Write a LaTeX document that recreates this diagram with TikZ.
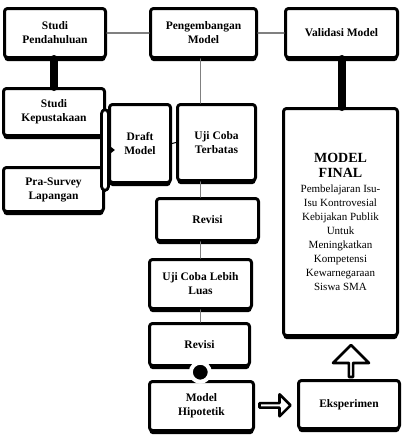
\documentclass[tikz,border=0pt]{standalone}
\usepackage{fontspec}
\setmainfont{Liberation Serif}
\usetikzlibrary{shadows,shapes.arrows,arrows.meta,calc}
\begin{document}
\begin{tikzpicture}[x=1pt, y=-1pt, line join=round, line cap=round,
	kotak/.style={draw, fill=white, line width=3pt, rounded corners=3pt, align=center, inner sep=2pt,
		font=\fontsize{11.5}{14}\selectfont\bfseries,
		drop shadow={shadow xshift=0pt, shadow yshift=-3.5pt, fill=black, opacity=1}},
	garis/.style={gray, line width=1.2pt},
	batang/.style={line width=8pt, line cap=round},
	panah/.style={draw, fill=white, line width=2.6pt, single arrow, inner sep=0pt, line join=round}]
	\useasboundingbox (0,0) rectangle (408,445);
	\node[kotak, minimum width=101, minimum height=49] (pendahuluan) at (55,33) {Studi\\Pendahuluan};
	\node[kotak, minimum width=106, minimum height=49] (pengembangan) at (203.5,33) {Pengembangan\\Model};
	\node[kotak, minimum width=112, minimum height=49] (validasi) at (341.5,33) {Validasi Model};
	\node[kotak, minimum width=101, minimum height=47] (kepustakaan) at (54,112) {Studi\\Kepustakaan};
	\node[kotak, minimum width=100, minimum height=44] (prasurvey) at (53.5,189.5) {Pra-Survey\\Lapangan};
	\node[kotak, minimum width=61, minimum height=78] (draft) at (140,143.5) {Draft\\Model};
	\node[kotak, minimum width=78, minimum height=76] (ujiterbatas) at (216.5,142.5) {Uji Coba\\Terbatas};
	\node[kotak, minimum width=102, minimum height=42] (revisi1) at (207.5,219.5) {Revisi};
	\node[kotak, minimum width=102, minimum height=49] (ujiluas) at (200.5,284) {Uji Coba Lebih\\Luas};
	\node[kotak, minimum width=100, minimum height=42] (revisi2) at (199.5,344.5) {Revisi};
	\node[kotak, minimum width=104, minimum height=49] (hipotetik) at (201.5,406) {Model\\Hipotetik};
	\node[kotak, minimum width=101, minimum height=48] (eksperimen) at (349,404.5) {Eksperimen};
	\node[kotak, minimum width=114, minimum height=227, font=\fontsize{11}{14}\selectfont] (final) at (340.5,222)
		{{\fontsize{14}{17}\selectfont\bfseries MODEL}\\[1pt]{\fontsize{14}{17}\selectfont\bfseries FINAL}\\[1pt]
		Pembelajaran Isu-\\Isu Kontrovesial\\Kebijakan Publik\\Untuk\\Meningkatkan\\Kompetensi\\Kewarnegaraan\\Siswa SMA};
	\draw[garis] (pendahuluan.east) -- (pengembangan.west);
	\draw[garis] (pengembangan.east) -- (validasi.west);
	\draw[garis] (ujiluas.north |- pengembangan.south) -- (ujiluas.north |- ujiterbatas.north);
	\draw[garis] (ujiluas.north |- ujiterbatas.south) -- (ujiluas.north |- revisi1.north);
	\draw[garis] (ujiluas.north |- revisi1.south) -- (ujiluas.north);
	\draw[garis] (ujiluas.south) -- (ujiluas.south |- revisi2.north);
	\draw[line width=1pt] (draft.east) -- (ujiterbatas.west);
	\draw[batang] (kepustakaan.north |- pendahuluan.south) -- (kepustakaan.north);
	\draw[batang] (validasi.south) -- (validasi.south |- final.north);
	\node[draw, fill=white, line width=2.8pt, rounded corners=4pt, minimum width=7, minimum height=81, inner sep=0pt] (kurung) at (105,150) {};
	\coordinate (ujung) at ($(kurung.east)+(5,0)$);
	\draw[line width=1pt, -{Triangle[length=4pt,width=6pt]}] (kurung.east) -- (ujung);
	\node[circle, fill=black, draw=white, line width=4pt, minimum size=19, inner sep=0pt] (titik) at ($(revisi2.south)!0.4!(hipotetik.north)$) {};
	\node[panah, minimum height=31, minimum width=22, single arrow head extend=5pt] (kanan) at ($(hipotetik.east)!0.45!(eksperimen.west)$) {};
	\node[panah, minimum height=32, minimum width=36, single arrow head extend=10pt, rotate=90] (atas) at ($(eksperimen.north)+(2,-17)$) {};
\end{tikzpicture}
\end{document}
